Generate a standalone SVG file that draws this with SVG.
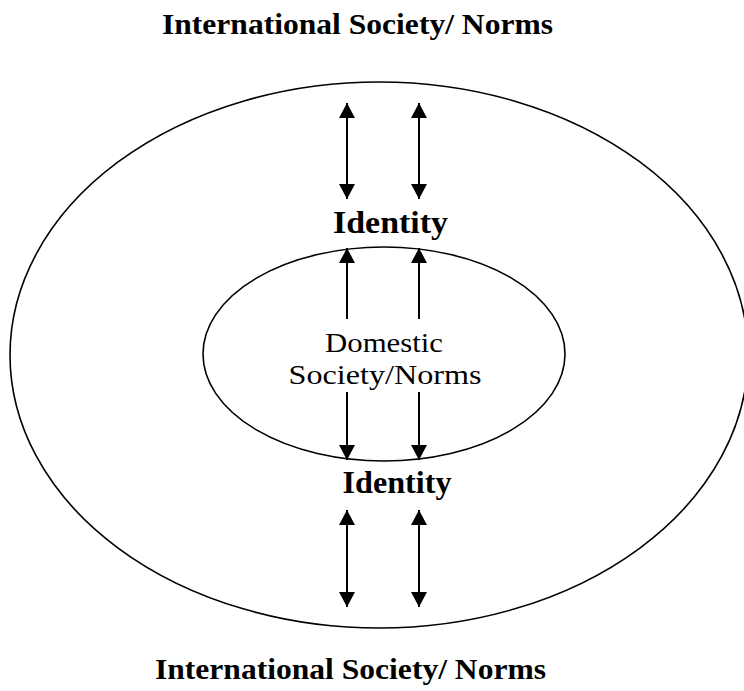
<svg xmlns="http://www.w3.org/2000/svg" width="744" height="691" viewBox="0 0 744 691">
<style>
.ell{fill:none;stroke:#000;stroke-width:1.6}
.arr{stroke:#000;stroke-width:2;fill:none}
.t{font-family:"Liberation Serif","Times New Roman",serif;fill:#000;text-anchor:middle}
.b{font-weight:bold}
</style>
<defs>
<marker id="ah" viewBox="0 0 15 16" refX="15" refY="8" markerWidth="15" markerHeight="16" markerUnits="userSpaceOnUse" orient="auto-start-reverse">
<path d="M0,0 L15,8 L0,16 z" fill="#000"/>
</marker>
</defs>
<rect width="744" height="691" fill="#fff"/>
<g id="outer">
<ellipse class="ell" cx="379" cy="355" rx="369" ry="273"/>
</g>
<g id="inner">
<ellipse class="ell" cx="384" cy="354" rx="181" ry="107"/>
<text class="t" x="384" y="352" font-size="28" textLength="118" lengthAdjust="spacingAndGlyphs">Domestic</text>
<text class="t" x="385" y="384" font-size="28" textLength="193" lengthAdjust="spacingAndGlyphs">Society/Norms</text>
</g>
<g id="title-top">
<text class="t b" x="357.5" y="34" font-size="29" textLength="391" lengthAdjust="spacingAndGlyphs">International Society/ Norms</text>
</g>
<g id="title-bottom">
<text class="t b" x="350.5" y="679" font-size="29" textLength="391" lengthAdjust="spacingAndGlyphs">International Society/ Norms</text>
</g>
<g id="identity-top">
<text class="t b" x="390.5" y="233" font-size="32" textLength="115" lengthAdjust="spacingAndGlyphs">Identity</text>
</g>
<g id="identity-bottom">
<text class="t b" x="397" y="493" font-size="32" textLength="109" lengthAdjust="spacingAndGlyphs">Identity</text>
</g>
<g id="connectors">
<line class="arr" x1="347" y1="103" x2="347" y2="199" marker-start="url(#ah)" marker-end="url(#ah)"/>
<line class="arr" x1="419" y1="103" x2="419" y2="199" marker-start="url(#ah)" marker-end="url(#ah)"/>
<line class="arr" x1="347" y1="319" x2="347" y2="248" marker-end="url(#ah)"/>
<line class="arr" x1="419" y1="319" x2="419" y2="248" marker-end="url(#ah)"/>
<line class="arr" x1="347" y1="392" x2="347" y2="460" marker-end="url(#ah)"/>
<line class="arr" x1="419" y1="392" x2="419" y2="460" marker-end="url(#ah)"/>
<line class="arr" x1="347" y1="510" x2="347" y2="607" marker-start="url(#ah)" marker-end="url(#ah)"/>
<line class="arr" x1="419" y1="510" x2="419" y2="607" marker-start="url(#ah)" marker-end="url(#ah)"/>
</g>
</svg>
